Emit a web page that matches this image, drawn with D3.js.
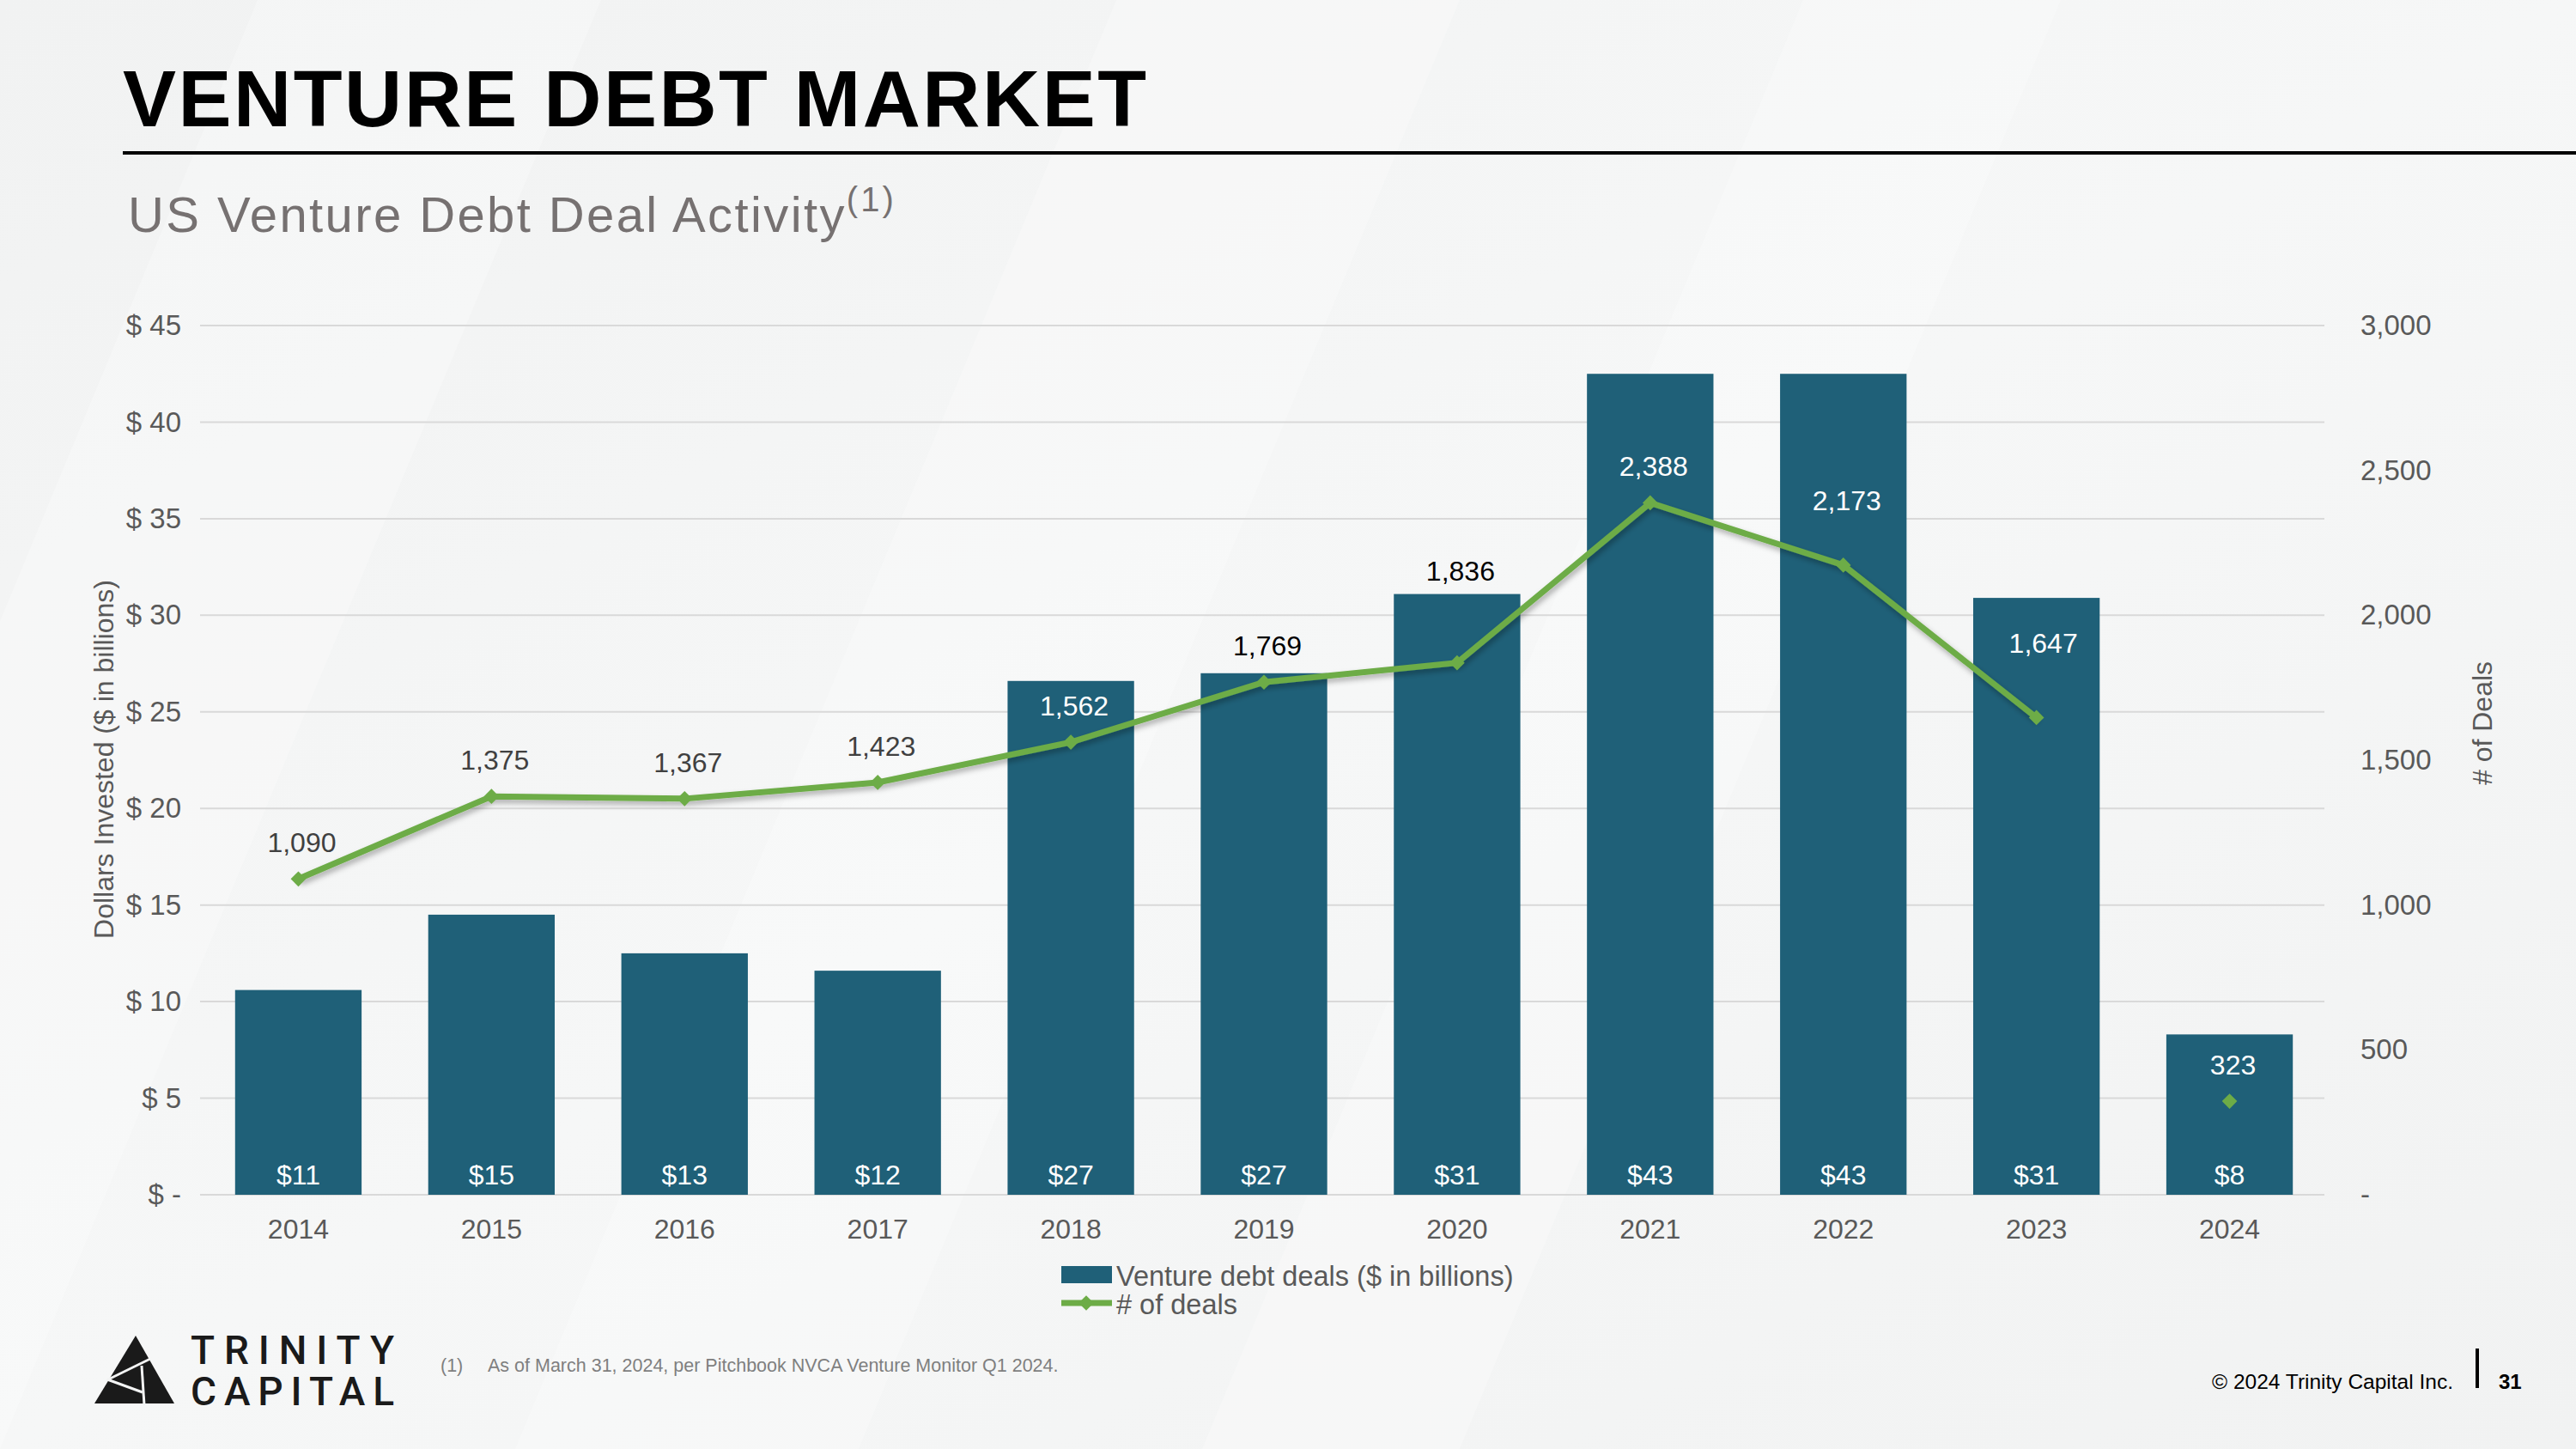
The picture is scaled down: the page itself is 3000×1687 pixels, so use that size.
<!DOCTYPE html>
<html>
<head>
<meta charset="utf-8">
<script src="https://cdn.jsdelivr.net/npm/d3@7"></script>
<style>
  html, body { margin: 0; padding: 0; background: #f3f4f4; }
  svg { display: block; font-family: "Liberation Sans", Arial, sans-serif; }
</style>
</head>
<body>
<div id="container"></div>
<script>
// data
var years = ["2014", "2015", "2016", "2017", "2018", "2019", "2020", "2021", "2022", "2023", "2024"];
var dollars = [10.6, 14.5, 12.5, 11.6, 26.6, 27.0, 31.1, 42.5, 42.5, 30.9, 8.3];
var dollarLabels = ["$11", "$15", "$13", "$12", "$27", "$27", "$31", "$43", "$43", "$31", "$8"];
var deals = [1090, 1375, 1367, 1423, 1562, 1769, 1836, 2388, 2173, 1647, 323];
var leftTicks = [0, 5, 10, 15, 20, 25, 30, 35, 40, 45];
var rightTicks = [0, 500, 1000, 1500, 2000, 2500, 3000];
var partialYear = "2024"; // YTD point, not joined to the line

var W = 3000, H = 1687;
var plot = { left: 235, right: 2709, top: 379, bottom: 1391 };
var barColor = "#1f6078";
var lineColor = "#6dac47";
var textGray = "#595959";
// how far above the point each deal label sits (default 42)
var labelLift = { "2020": 107, "2022": 75, "2023": 86 };

var svg = d3.select("#container").append("svg")
  .attr("width", W).attr("height", H);

var defs = svg.append("defs");
var bg = defs.append("linearGradient").attr("id", "bg")
  .attr("x1", "0").attr("y1", "0").attr("x2", "1").attr("y2", "1");
bg.append("stop").attr("offset", "0").attr("stop-color", "#f1f2f2");
bg.append("stop").attr("offset", "0.5").attr("stop-color", "#f6f7f7");
bg.append("stop").attr("offset", "1").attr("stop-color", "#f1f2f2");
var shadow = defs.append("filter").attr("id", "shadow")
  .attr("x", "-5%").attr("y", "-20%").attr("width", "110%").attr("height", "140%");
shadow.append("feDropShadow").attr("dx", 2).attr("dy", 4).attr("stdDeviation", 3)
  .attr("flood-color", "#000").attr("flood-opacity", 0.3);

svg.append("rect").attr("width", W).attr("height", H).attr("fill", "url(#bg)");
// faint diagonal streaks
[[300, 700], [1300, 1700], [2100, 2400]].forEach(function (s) {
  svg.append("polygon")
    .attr("points", [[s[0], 0], [s[1], 0], [s[1] - 700, H], [s[0] - 700, H]].join(" "))
    .attr("fill", "#ffffff").attr("opacity", 0.25);
});

// title block
svg.append("text").attr("x", 143).attr("y", 147)
  .attr("font-size", 93).attr("font-weight", "bold").attr("letter-spacing", 2.5)
  .attr("fill", "#000").text("VENTURE DEBT MARKET");
svg.append("line").attr("x1", 143).attr("x2", W).attr("y1", 178).attr("y2", 178)
  .attr("stroke", "#000").attr("stroke-width", 4);
var sub = svg.append("text").attr("x", 149).attr("y", 270)
  .attr("font-size", 58).attr("letter-spacing", 2.4).attr("fill", "#767171");
sub.append("tspan").text("US Venture Debt Deal Activity");
sub.append("tspan").attr("font-size", 40).attr("dy", -24).attr("letter-spacing", 3).text("(1)");

// scales
var x = d3.scaleBand().domain(years).range([plot.left, plot.right])
  .paddingInner(0.345).paddingOuter(0.1725);
var yL = d3.scaleLinear().domain([0, 45]).range([plot.bottom, plot.top]);
var yR = d3.scaleLinear().domain([0, 3000]).range([plot.bottom, plot.top]);

// gridlines
svg.append("g").selectAll("line").data(leftTicks).join("line")
  .attr("x1", plot.left - 2).attr("x2", plot.right - 2)
  .attr("y1", function (d) { return yL(d); }).attr("y2", function (d) { return yL(d); })
  .attr("stroke", "#d9d9d9").attr("stroke-width", 2);

// left axis
var fmtL = function (d) { return d === 0 ? "$ -" : "$ " + d; };
var axL = svg.append("g").attr("transform", "translate(" + (plot.left - 2) + ",0)")
  .call(d3.axisLeft(yL).tickValues(leftTicks).tickFormat(fmtL).tickSize(0).tickPadding(22));
axL.select(".domain").remove();
axL.selectAll("text").attr("font-size", 33).attr("fill", textGray)
  .attr("font-family", "Liberation Sans, Arial, sans-serif");

// right axis
var fmtR = function (d) { return d === 0 ? "-" : d3.format(",")(d); };
var axR = svg.append("g").attr("transform", "translate(2749,0)")
  .call(d3.axisRight(yR).tickValues(rightTicks).tickFormat(fmtR).tickSize(0).tickPadding(0));
axR.select(".domain").remove();
axR.selectAll("text").attr("font-size", 33).attr("fill", textGray)
  .attr("font-family", "Liberation Sans, Arial, sans-serif");

// bottom axis
var axB = svg.append("g").attr("transform", "translate(0," + plot.bottom + ")")
  .call(d3.axisBottom(x).tickSize(0).tickPadding(28));
axB.select(".domain").remove();
axB.selectAll("text").attr("font-size", 32).attr("fill", textGray)
  .attr("font-family", "Liberation Sans, Arial, sans-serif");

// axis titles
svg.append("text").attr("transform", "translate(132,884) rotate(-90)")
  .attr("text-anchor", "middle").attr("font-size", 32).attr("fill", textGray)
  .text("Dollars Invested ($ in billions)");
svg.append("text").attr("transform", "translate(2902,842) rotate(-90)")
  .attr("text-anchor", "middle").attr("font-size", 32).attr("fill", textGray)
  .text("# of Deals");

// bars
svg.append("g").selectAll("rect").data(years).join("rect")
  .attr("x", function (d) { return x(d); })
  .attr("width", x.bandwidth())
  .attr("y", function (d, i) { return yL(dollars[i]); })
  .attr("height", function (d, i) { return yL(0) - yL(dollars[i]); })
  .attr("fill", barColor);

svg.append("g").selectAll("text").data(years).join("text")
  .attr("x", function (d) { return x(d) + x.bandwidth() / 2; })
  .attr("y", plot.bottom - 12)
  .attr("text-anchor", "middle").attr("font-size", 32).attr("fill", "#fff")
  .text(function (d, i) { return dollarLabels[i]; });

// deals line
var pts = years.map(function (d, i) {
  return { year: d, value: deals[i], x: x(d) + x.bandwidth() / 2, y: yR(deals[i]), bar: yL(dollars[i]) };
});
var line = d3.line().x(function (d) { return d.x; }).y(function (d) { return d.y; });
svg.append("path")
  .datum(pts.filter(function (d) { return d.year !== partialYear; }))
  .attr("d", line).attr("fill", "none")
  .attr("stroke", lineColor).attr("stroke-width", 7).attr("stroke-linejoin", "miter")
  .attr("filter", "url(#shadow)");

var diamond = d3.symbol().type(d3.symbolDiamond2).size(200);
svg.append("g").selectAll("path").data(pts).join("path")
  .attr("transform", function (d) { return "translate(" + d.x + "," + d.y + ")"; })
  .attr("d", diamond).attr("fill", lineColor);

svg.append("g").selectAll("text").data(pts).join("text")
  .attr("x", function (d) { return d.x + (d.value > 1600 && d.value < 1700 ? 8 : 4); })
  .attr("y", function (d) { return d.y - (labelLift[d.year] || 42) + 11; })
  .attr("text-anchor", "middle").attr("font-size", 32)
  .attr("fill", function (d) {
    var ly = d.y - (labelLift[d.year] || 42);
    return ly > d.bar ? "#ffffff" : (d.value > 1700 ? "#000000" : "#404040");
  })
  .text(function (d) { return d3.format(",")(d.value); });

// legend
var lg = svg.append("g").attr("font-size", 32.5).attr("fill", textGray);
lg.append("rect").attr("x", 1236).attr("y", 1474).attr("width", 59).attr("height", 20).attr("fill", barColor);
lg.append("text").attr("x", 1300).attr("y", 1497).text("Venture debt deals ($ in billions)");
lg.append("line").attr("x1", 1236).attr("x2", 1295).attr("y1", 1517).attr("y2", 1517)
  .attr("stroke", lineColor).attr("stroke-width", 7);
lg.append("path").attr("transform", "translate(1265,1517)").attr("d", diamond).attr("fill", lineColor);
lg.append("text").attr("x", 1300).attr("y", 1530).text("# of deals");

// footnote
svg.append("text").attr("x", 513).attr("y", 1597).attr("font-size", 21.5).attr("fill", "#7f7f7f").text("(1)");
svg.append("text").attr("x", 568).attr("y", 1597).attr("font-size", 21.5).attr("fill", "#7f7f7f")
  .text("As of March 31, 2024, per Pitchbook NVCA Venture Monitor Q1 2024.");

// footer
svg.append("text").attr("x", 2857).attr("y", 1617).attr("text-anchor", "end")
  .attr("font-size", 24.5).attr("fill", "#000").text("\u00a9 2024 Trinity Capital Inc.");
svg.append("line").attr("x1", 2885).attr("x2", 2885).attr("y1", 1570).attr("y2", 1616)
  .attr("stroke", "#000").attr("stroke-width", 4);
svg.append("text").attr("x", 2910).attr("y", 1617).attr("font-size", 24)
  .attr("font-weight", "bold").attr("fill", "#000").text("31");

// logo
var logo = svg.append("g");
logo.append("polygon").attr("points", "158,1555 110,1634 203,1634").attr("fill", "#1a1a1a");
logo.append("polyline").attr("points", "124,1607 175,1582").attr("stroke", "#f3f4f4").attr("stroke-width", 3).attr("fill", "none");
logo.append("polyline").attr("points", "125,1606 166,1621").attr("stroke", "#f3f4f4").attr("stroke-width", 3).attr("fill", "none");
logo.append("polyline").attr("points", "165,1590 168,1636").attr("stroke", "#f3f4f4").attr("stroke-width", 3).attr("fill", "none");
[["TRINITY", 1588], ["CAPITAL", 1636]].forEach(function (t) {
  logo.append("text").attr("x", 222).attr("y", t[1])
    .attr("font-family", "Roboto, sans-serif")
    .attr("font-size", 46).attr("font-weight", 500).attr("fill", "#1a1a1a")
    .attr("textLength", 237).attr("lengthAdjust", "spacing").text(t[0]);
});
</script>
</body>
</html>
